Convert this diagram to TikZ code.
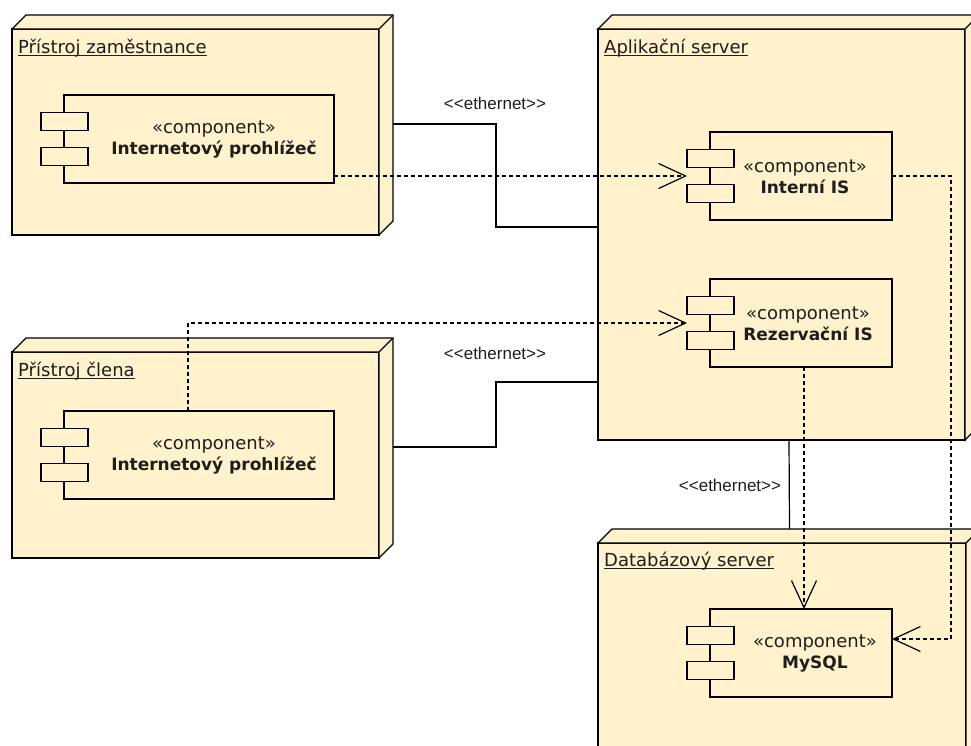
\documentclass[tikz,border=0pt]{standalone}
\usepackage{fontspec}
\setmainfont{DejaVu Sans}
\newfontfamily\lab{Liberation Sans}
\usetikzlibrary{arrows.meta}
\definecolor{nodefill}{RGB}{255,242,204}
\definecolor{txt}{RGB}{30,30,30}
\begin{document}
\begin{tikzpicture}[x=1pt,y=-1pt,
  dev/.style={draw, fill=nodefill, line width=1.2pt, inner sep=0pt, outer sep=0pt},
  devside/.style={draw, fill=nodefill, line width=1.2pt, line join=miter},
  comp/.style={draw, fill=nodefill, line width=1.2pt, minimum width=182pt, minimum height=88pt, inner sep=0pt, outer sep=0pt},
  icon/.style={draw, fill=nodefill, line width=1.2pt, minimum width=47pt, minimum height=17.5pt, inner sep=0pt, outer sep=0pt},
  title/.style={anchor=base west, inner sep=0pt, font=\fontsize{18}{21}\selectfont, text=txt},
  ctext/.style={align=center, inner sep=0pt, font=\fontsize{18}{21}\selectfont, text=txt},
  eth/.style={draw, line width=1.2pt},
  ethlab/.style={font=\lab\fontsize{17}{20}\selectfont, text=txt, inner sep=0pt},
  dep/.style={draw, line width=1.2pt, dash pattern=on 4pt off 3pt, -{Straight Barb[length=27pt,width=25pt]}},
]
\useasboundingbox (0,0) rectangle (971,745);
\clip (0,0) rectangle (971,745);
\fill[white] (0,0) rectangle (971,745);

% devices (front faces)
\node[dev, minimum width=367pt, minimum height=206pt] (d1) at (195.5,132) {};
\node[dev, minimum width=367pt, minimum height=206pt] (d2) at (195.5,455) {};
\node[dev, minimum width=367pt, minimum height=411pt] (d3) at (781.5,234.5) {};
\node[dev, minimum width=368pt, minimum height=230pt] (d4) at (782,658) {};
\foreach \d in {d1,d2,d3,d4}{
  \draw[devside] (\d.north west) -- ++(14,-14) -- ([shift={(14,-14)}]\d.north east)
     -- ([shift={(14,-14)}]\d.south east) -- (\d.south east) -- (\d.north east) -- cycle;
  \draw[devside] (\d.north east) -- ++(14,-14);
}

% titles
\node[title] (t1) at ([shift={(6,24)}]d1.north west) {Přístroj zaměstnance};
\node[title] (t2) at ([shift={(6,24)}]d2.north west) {Přístroj člena};
\node[title] (t3) at ([shift={(6,24)}]d3.north west) {Aplikační server};
\node[title] (t4) at ([shift={(6,23)}]d4.north west) {Databázový server};
\foreach \t in {t1,t2,t3,t4}{
  \draw[line width=1pt, txt] ([yshift=-2pt]\t.base west) -- ([yshift=-2pt]\t.base east);
}

% components
\node[comp, minimum width=270pt] (c1) at (199,139) {};
\node[comp, minimum width=270pt] (c2) at (199,455) {};
\node[comp] (c3) at (801,176) {};
\node[comp] (c4) at (801,323) {};
\node[comp] (c5) at (801,653) {};
\foreach \c in {c1,c2,c3,c4,c5}{
  \node[icon] (\c a) at ([shift={(0.5,-17.5)}]\c.west) {};
  \node[icon] (\c b) at ([shift={(0.5,17.5)}]\c.west) {};
}
\node[ctext] (l1) at (214,140) {«component»\\{\fontsize{17}{21}\selectfont\bfseries Internetový prohlížeč}};
\node[ctext] (l2) at (214,456) {«component»\\{\fontsize{17}{21}\selectfont\bfseries Internetový prohlížeč}};
\node[ctext] (l3) at (805,177) {«component»\\{\fontsize{17}{21}\selectfont\bfseries Interní IS}};
\node[ctext] (l4) at (808,324) {«component»\\{\fontsize{17}{21}\selectfont\bfseries Rezervační IS}};
\node[ctext] (l5) at (815,654) {«component»\\{\fontsize{17}{21}\selectfont\bfseries MySQL}};

% ethernet links
\draw[eth] ([xshift=14pt,yshift=8pt]d1.east) -- (496,124) |- (d3.west |- 0,227);
\draw[eth] ([xshift=14pt,yshift=8pt]d2.east) -- (496,447) |- (d3.west |- 0,382);
\draw[eth] ([xshift=7.5pt]d3.south) -- ([xshift=7.5pt,yshift=14pt]d4.north);
\node[ethlab] (e1) at (495,103) {{<}{<}ethernet{>}{>}};
\node[ethlab] (e2) at (495,353) {{<}{<}ethernet{>}{>}};
\node[ethlab] (e3) at (730,485) {{<}{<}ethernet{>}{>}};

% dependencies
\coordinate (bend) at (951,0);
\draw[dep] (c1.east |- c3) -- (c3a.west |- c3);
\draw[dep] ([xshift=-11pt]c2.north) |- (c4a.west |- c4);
\draw[dep] ([xshift=3pt]c4.south) -- ([xshift=3pt]c5.north);
\draw[dep] (c3.east) -- (c3.east -| bend) |- ([yshift=14pt]c5.east);
\end{tikzpicture}
\end{document}
